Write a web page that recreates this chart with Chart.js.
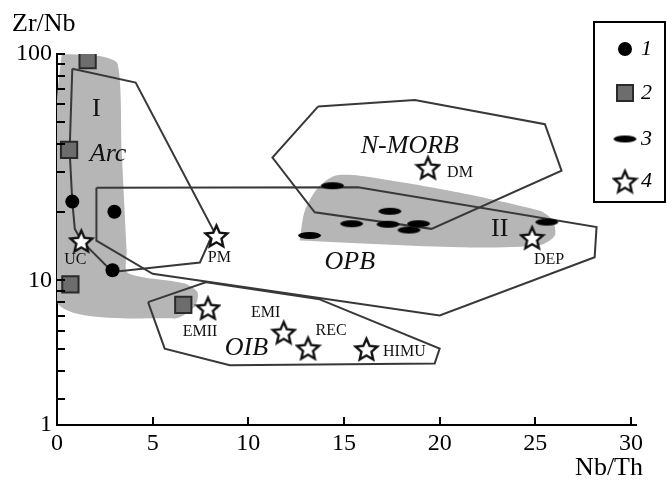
<!DOCTYPE html>
<html>
<head>
<meta charset="utf-8">
<script src="https://cdn.jsdelivr.net/npm/chart.js@4"></script>
<style>
  html, body { margin: 0; padding: 0; background: #fff; }
  canvas { display: block; }
</style>
</head>
<body>
<canvas id="chart" width="667" height="481"></canvas>
<script>
// samples, [Nb/Th, Zr/Nb]
var group1 = [[0.8, 22.3], [3.0, 20.1], [2.9, 11.1]];
var group2 = [[1.6, 94], [0.63, 37.7], [0.7, 9.6], [6.6, 7.8]];
var group3 = [[14.4, 26.2], [17.4, 20.2], [15.4, 17.8], [17.3, 17.7], [18.9, 17.8],
              [18.4, 16.7], [13.2, 15.8], [25.6, 18.1]];

// reference reservoirs (stars)
var starNames = ['UC', 'PM', 'EMII', 'EMI', 'REC', 'HIMU', 'DM', 'DEP'];
var starX = [1.27, 8.33, 7.89, 11.85, 13.12, 16.17, 19.39, 24.83];
var starY = [15.0, 15.8, 7.58, 5.92, 5.04, 5.0, 31.6, 15.5];

// field outlines
var arcLine = [[0.8, 86], [4.11, 74.8], [8.2, 16.5], [7.47, 12.0], [2.9, 10.9], [1.27, 15.0],
               [0.93, 16.9], [0.8, 22.3], [0.66, 37.4], [0.8, 86]];
var opbLine = [[2.06, 25.7], [15.73, 25.8], [28.2, 17.2], [28.1, 12.66], [20.0, 7.0],
               [5.0, 10.7], [2.06, 15.0], [2.06, 25.7]];
var oibLine = [[4.76, 8.02], [7.81, 9.83], [13.73, 8.25], [20.0, 5.0], [19.74, 4.3],
               [9.03, 4.22], [5.63, 5.0], [4.76, 8.02]];
var morbLine = [[13.64, 58.6], [18.7, 62.7], [25.5, 49], [26.37, 30.5], [19.57, 16.9],
                [13.47, 20.0], [11.26, 34.9], [13.64, 58.6]];

// shaded fields I and II
var fieldI = [[0.25, 100], [2.23, 98], [3.17, 90.4], [3.38, 37.4], [3.64, 13.55], [3.7, 10.8],
              [6.68, 9.7], [7.35, 8.85], [7.2, 7.68], [6.15, 6.8], [0, 8.0], [0, 62], [0.25, 100]];
var fieldII = [[12.68, 15.0], [12.95, 20.3], [13.63, 25.7], [14.52, 29.0], [15.82, 29.0],
               [20.53, 24.9], [25.23, 20.3], [25.91, 18.4], [26.02, 15.8], [25.23, 14.3],
               [21.05, 14.0], [12.68, 15.0]];

// field names
var regionNames = ['I', 'Arc', 'N-MORB', 'OPB', 'II', 'OIB'];
var regionX = [2.06, 2.67, 18.44, 15.3, 23.14, 9.9];
var regionY = [57.3, 36.2, 39.3, 12.0, 16.9, 5.0];

var legendLabels = ['1', '2', '3', '4'];

var xTicks = [0, 5, 10, 15, 20, 25, 30];
// y axis is broken at the bottom: log scale down to ~3, then the corner is marked "1"
var yMin = 2.3;
var yTicks = [2.3, 3, 4, 5, 6, 7, 8, 9, 10, 20, 30, 40, 50, 60, 70, 80, 90, 100];
var yTickLabels = ['1', '', '', '', '', '', '', '', '10', '', '', '', '', '', '', '', '', '100'];

var SERIF = '"Liberation Serif", "DejaVu Serif", serif';

function pts(arr) {
    return arr.map(function(p) { return {x: p[0], y: p[1]}; });
}

function makeStar(size) {
    var c = document.createElement('canvas');
    c.width = size; c.height = size;
    var g = c.getContext('2d');
    var R = size / 2 - 2, r = R * 0.46;
    g.beginPath();
    for (var i = 0; i < 10; i++) {
        var a = -Math.PI / 2 + i * Math.PI / 5;
        var rad = i % 2 ? r : R;
        g.lineTo(size / 2 + rad * Math.cos(a), size / 2 + 1.5 + rad * Math.sin(a));
    }
    g.closePath();
    g.fillStyle = '#fff';
    g.fill();
    g.lineWidth = 2.4;
    g.strokeStyle = '#111';
    g.stroke();
    return c;
}

function makeEllipse(w, h) {
    var c = document.createElement('canvas');
    c.width = w; c.height = h;
    var g = c.getContext('2d');
    g.beginPath();
    g.ellipse(w / 2, h / 2, w / 2 - 1, h / 2 - 1, 0, 0, Math.PI * 2);
    g.fillStyle = '#000';
    g.fill();
    return c;
}

var starImg = makeStar(27);
var ellImg = makeEllipse(25, 9);

// label offsets in pixels from each star
var starLabelOffset = [[-6, 19], [3, 22], [-8, 24], [-18, -19], [23, -17], [38, 3], [32, 5], [17, 22]];

function outline(arr) {
    return {
        data: pts(arr), showLine: true, fill: false, pointRadius: 0,
        borderColor: '#383838', borderWidth: 2, tension: 0, order: 5
    };
}
function field(arr) {
    return {
        data: pts(arr), showLine: true, fill: 'shape', pointRadius: 0,
        borderWidth: 0, borderColor: 'rgba(0,0,0,0)', backgroundColor: '#b6b6b6',
        tension: 0.25, order: 10
    };
}

var decor = {
    id: 'decor',
    afterDraw: function(chart) {
        var ctx = chart.ctx;
        var xs = chart.scales.x, ys = chart.scales.y;
        var area = chart.chartArea;
        ctx.save();

        // inward tick marks
        ctx.strokeStyle = '#000';
        ctx.lineWidth = 2;
        ctx.beginPath();
        yTicks.forEach(function(v) {
            if (v === yMin) return;
            var y = Math.round(ys.getPixelForValue(v)) + 0.0;
            ctx.moveTo(area.left, y);
            ctx.lineTo(area.left + 8, y);
        });
        xTicks.forEach(function(v) {
            if (v === 0) return;
            var x = Math.round(xs.getPixelForValue(v));
            ctx.moveTo(x, area.bottom);
            ctx.lineTo(x, area.bottom - 8);
        });
        ctx.moveTo(area.right, area.bottom);
        ctx.lineTo(area.right + 6, area.bottom);
        ctx.stroke();

        // axis titles
        ctx.fillStyle = '#000';
        ctx.font = '26px ' + SERIF;
        ctx.textBaseline = 'middle';
        ctx.textAlign = 'left';
        ctx.fillText('Zr/Nb', 12, 24);
        ctx.textAlign = 'right';
        ctx.fillText('Nb/Th', 643, 468);

        // field names
        ctx.fillStyle = '#111';
        ctx.textAlign = 'center';
        regionNames.forEach(function(name, i) {
            var italic = name !== 'I' && name !== 'II';
            ctx.font = (italic ? 'italic ' : '') + '26px ' + SERIF;
            ctx.fillText(name, xs.getPixelForValue(regionX[i]), ys.getPixelForValue(regionY[i]));
        });

        // star labels
        ctx.font = '16px ' + SERIF;
        starNames.forEach(function(name, i) {
            var o = starLabelOffset[i];
            ctx.fillText(name, xs.getPixelForValue(starX[i]) + o[0], ys.getPixelForValue(starY[i]) + o[1]);
        });

        // legend box
        ctx.lineWidth = 2;
        ctx.strokeStyle = '#000';
        ctx.strokeRect(594, 22, 71, 180);
        var ly = [49, 93, 139, 181], lx = 625;
        ctx.fillStyle = '#000';
        ctx.beginPath();
        ctx.arc(lx, ly[0], 7, 0, Math.PI * 2);
        ctx.fill();
        ctx.fillStyle = '#6d6d6d';
        ctx.fillRect(lx - 8, ly[1] - 8, 16, 16);
        ctx.strokeStyle = '#2a2a2a';
        ctx.lineWidth = 2;
        ctx.strokeRect(lx - 8, ly[1] - 8, 16, 16);
        ctx.drawImage(ellImg, lx - ellImg.width / 2, ly[2] - ellImg.height / 2);
        ctx.drawImage(starImg, lx - starImg.width / 2, ly[3] - starImg.height / 2);
        ctx.fillStyle = '#000';
        ctx.font = 'italic 22px ' + SERIF;
        ctx.textAlign = 'left';
        legendLabels.forEach(function(t, i) {
            ctx.fillText(t, 641, ly[i]);
        });
        ctx.restore();
    }
};

var chart = new Chart(document.getElementById('chart'), {
    type: 'scatter',
    data: {
        datasets: [
            field(fieldI),
            field(fieldII),
            outline(arcLine),
            outline(opbLine),
            outline(oibLine),
            outline(morbLine),
            {
                label: legendLabels[0], data: pts(group1), pointStyle: 'circle', pointRadius: 7,
                backgroundColor: '#000', borderColor: '#000', borderWidth: 0, order: 1
            },
            {
                label: legendLabels[1], data: pts(group2), pointStyle: 'rect', pointRadius: 11.5,
                backgroundColor: '#6d6d6d', borderColor: '#2a2a2a', borderWidth: 2, order: 1
            },
            {
                label: legendLabels[2], data: pts(group3), pointStyle: ellImg, order: 1
            },
            {
                label: legendLabels[3],
                data: starX.map(function(x, i) { return {x: x, y: starY[i]}; }),
                pointStyle: starImg, order: 0
            }
        ]
    },
    plugins: [decor],
    options: {
        responsive: false,
        animation: false,
        layout: { padding: { top: 54, right: 36, left: 0, bottom: 0 } },
        plugins: {
            legend: { display: false },
            tooltip: { enabled: false }
        },
        scales: {
            x: {
                type: 'linear', min: 0, max: 30,
                afterBuildTicks: function(s) { s.ticks = xTicks.map(function(v) { return {value: v}; }); },
                afterFit: function(s) { s.height = 56; },
                grid: { display: false, drawTicks: false },
                border: { display: true, color: '#000', width: 2 },
                ticks: { color: '#000', padding: 4, font: { family: SERIF, size: 24 }, autoSkip: false, maxRotation: 0 }
            },
            y: {
                type: 'logarithmic', min: yMin, max: 100,
                afterBuildTicks: function(s) { s.ticks = yTicks.map(function(v) { return {value: v}; }); },
                afterFit: function(s) { s.width = 57; },
                grid: { display: false, drawTicks: false },
                border: { display: true, color: '#000', width: 2 },
                ticks: {
                    color: '#000', padding: 5, autoSkip: false, font: { family: SERIF, size: 24 },
                    callback: function(v, i) { return yTickLabels[i]; }
                }
            }
        }
    }
});
</script>
</body>
</html>
